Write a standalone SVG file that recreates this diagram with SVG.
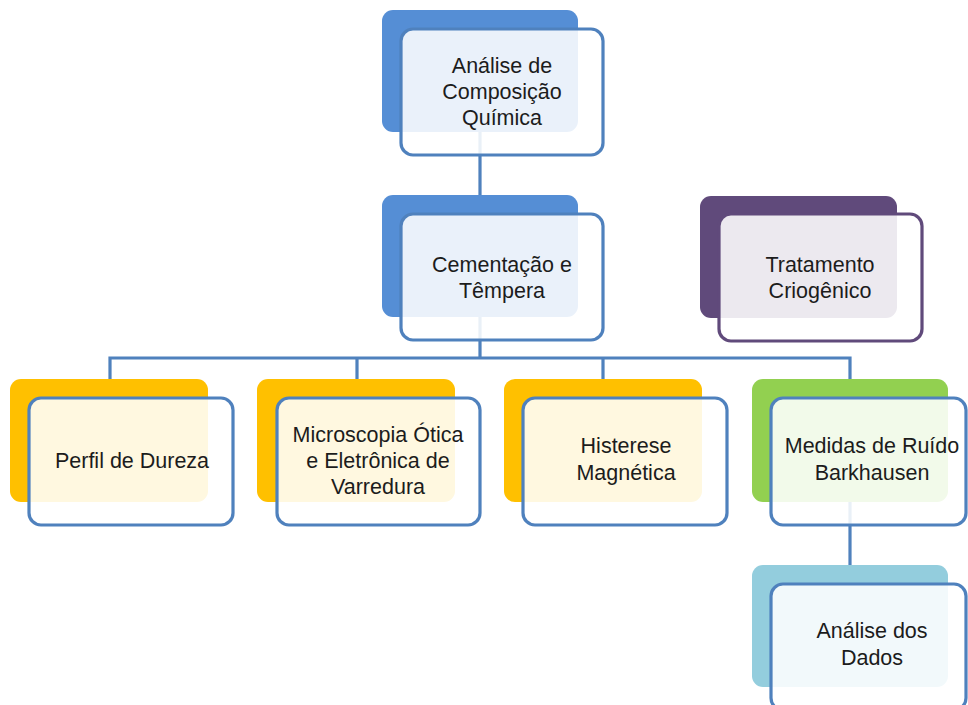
<svg xmlns="http://www.w3.org/2000/svg" width="968" height="705" viewBox="0 0 968 705">
<style>
.bg{fill:#ffffff}
.back{stroke:none}
.front{fill:#ffffff;fill-opacity:0.88;stroke:#4f81bd;stroke-width:3.2}
.fp{stroke:#604a7b}
.conn{fill:none;stroke:#4f81bd;stroke-width:3.2}
text{font-family:"Liberation Sans",Arial,sans-serif;font-size:21.5px;fill:#1c1c1c;text-anchor:middle}
</style>
<rect class="bg" x="0" y="0" width="968" height="705"/>
<g id="connectors">
<path class="conn" d="M480 132 V195"/>
<path class="conn" d="M480 317 V358 M110 379 V358 H850 V379 M357 358 V379 M603 358 V379"/>
<path class="conn" d="M850 502 V565"/>
</g>
<g id="n1">
<rect class="back" x="382" y="10" width="196" height="122" rx="11" fill="#558ed5"/>
<rect class="front" x="401" y="29" width="202" height="126" rx="12"/>
<text x="502" y="73">Análise de</text>
<text x="502" y="99">Composição</text>
<text x="502" y="125">Química</text>
</g>
<g id="n2">
<rect class="back" x="382" y="195" width="196" height="122" rx="11" fill="#558ed5"/>
<rect class="front" x="401" y="214" width="202" height="126" rx="12"/>
<text x="502" y="272">Cementação e</text>
<text x="502" y="298">Têmpera</text>
</g>
<g id="n3">
<rect class="back" x="700" y="196" width="197" height="122" rx="11" fill="#604a7b"/>
<rect class="front fp" x="719" y="214" width="203" height="127" rx="12"/>
<text x="820" y="272">Tratamento</text>
<text x="820" y="298">Criogênico</text>
</g>
<g id="n4">
<rect class="back" x="10" y="379" width="198" height="123" rx="11" fill="#ffc000"/>
<rect class="front" x="29" y="398" width="204" height="127" rx="12"/>
<text x="132" y="468">Perfil de Dureza</text>
</g>
<g id="n5">
<rect class="back" x="257" y="379" width="198" height="123" rx="11" fill="#ffc000"/>
<rect class="front" x="277" y="398" width="203" height="127" rx="12"/>
<text x="378" y="442">Microscopia Ótica</text>
<text x="378" y="468">e Eletrônica de</text>
<text x="378" y="494">Varredura</text>
</g>
<g id="n6">
<rect class="back" x="504" y="379" width="198" height="123" rx="11" fill="#ffc000"/>
<rect class="front" x="523" y="398" width="204" height="127" rx="12"/>
<text x="626" y="453">Histerese</text>
<text x="626" y="480">Magnética</text>
</g>
<g id="n7">
<rect class="back" x="752" y="379" width="196" height="123" rx="11" fill="#92d050"/>
<rect class="front" x="771" y="398" width="195" height="127" rx="12"/>
<text x="872" y="453">Medidas de Ruído</text>
<text x="872" y="480">Barkhausen</text>
</g>
<g id="n8">
<rect class="back" x="752" y="565" width="196" height="122" rx="11" fill="#93cddd"/>
<rect class="front" x="771" y="584" width="195" height="126" rx="12"/>
<text x="872" y="638">Análise dos</text>
<text x="872" y="665">Dados</text>
</g>
</svg>
